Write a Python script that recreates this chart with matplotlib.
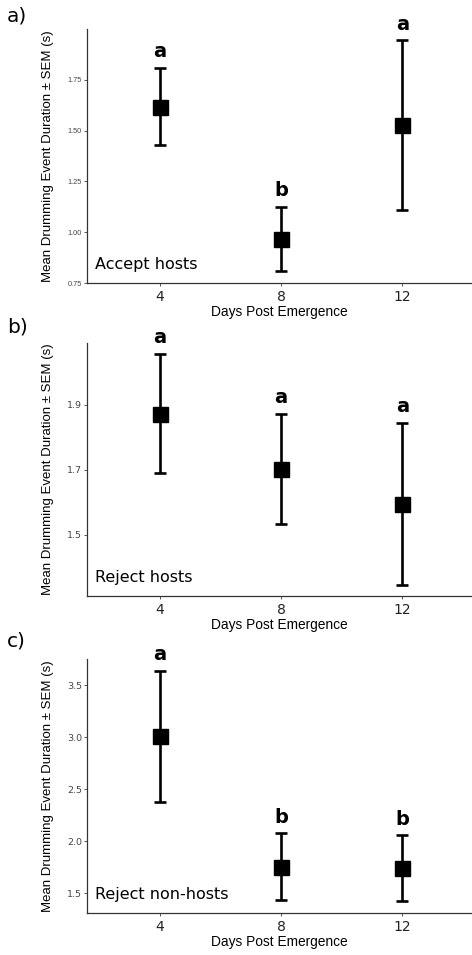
import matplotlib
matplotlib.use("Agg")
import matplotlib.pyplot as plt

# days post emergence
days = [4, 8, 12]

# mean and SEM bounds
accept_mean = [1.618, 0.967, 1.529]
accept_hi = [1.81, 1.125, 1.945]
accept_lo = [1.43, 0.809, 1.11]
accept_sig = ["a", "b", "a"]

reject_mean = [1.872, 1.703, 1.595]
reject_hi = [2.057, 1.872, 1.845]
reject_lo = [1.689, 1.534, 1.346]
reject_sig = ["a", "a", "a"]

nonhost_mean = [3.01, 1.753, 1.743]
nonhost_hi = [3.637, 2.074, 2.055]
nonhost_lo = [2.378, 1.433, 1.423]
nonhost_sig = ["a", "b", "b"]

W, H = 472, 955
fig = plt.figure(figsize=(W / 100, H / 100), dpi=100)

panels = [
    # name, means, hi, lo, letters, ylim, yticks, tick labels, tick font, axes px (top, bottom), panel letter y
    ("Accept hosts", accept_mean, accept_hi, accept_lo, accept_sig,
     (0.75, 2.0), [0.75, 1.00, 1.25, 1.50, 1.75], ["0.75", "1.00", "1.25", "1.50", "1.75"],
     ("Liberation Sans", 5.3), (29, 283), "a)", 16),
    ("Reject hosts", reject_mean, reject_hi, reject_lo, reject_sig,
     (1.312, 2.09), [1.5, 1.7, 1.9], ["1.5", "1.7", "1.9"],
     ("DejaVu Sans", 6.8), (343, 596), "b)", 327),
    ("Reject non-hosts", nonhost_mean, nonhost_hi, nonhost_lo, nonhost_sig,
     (1.31, 3.75), [1.5, 2.0, 2.5, 3.0, 3.5], ["1.5", "2.0", "2.5", "3.0", "3.5"],
     ("DejaVu Sans", 6.8), (659, 913), "c)", 641),
]

left_px = 87
for name, m, hi, lo, sig, ylim, yt, ytl, tfont, (top_px, bot_px), plab, ply in panels:
    ax = fig.add_axes([left_px / W, 1 - bot_px / H, 1 - left_px / W, (bot_px - top_px) / H])
    yerr = [[mm - l for mm, l in zip(m, lo)], [h - mm for mm, h in zip(m, hi)]]
    ax.errorbar(days, m, yerr=yerr, fmt="s", color="black", ms=10.8,
                elinewidth=1.9, capsize=4.4, capthick=1.9)
    for d, h, s in zip(days, hi, sig):
        ax.annotate(s, (d, h), xytext=(0, 11.5), textcoords="offset points",
                    ha="center", va="center", fontsize=14, fontweight="bold",
                    family="DejaVu Sans")
    ax.text(0.021, 0.072, name, transform=ax.transAxes, fontsize=11.5,
            family="DejaVu Sans", ha="left", va="center")
    ax.set_xlim(1.6, 14.3)
    ax.set_ylim(*ylim)
    ax.set_xticks(days)
    ax.set_xticklabels([str(d) for d in days], fontsize=10, family="DejaVu Sans", color="#222222")
    ax.set_yticks(yt)
    ax.set_yticklabels(ytl, fontsize=tfont[1], family=tfont[0], color="#444444")
    ax.tick_params(axis="both", length=2, width=0.7, color="#555555")
    ax.tick_params(axis="x", pad=3.2)
    ax.tick_params(axis="y", pad=1.5)
    for sp in ["top", "right"]:
        ax.spines[sp].set_visible(False)
    for sp in ["left", "bottom"]:
        ax.spines[sp].set_linewidth(0.9)
        ax.spines[sp].set_color("#333333")
    ax.set_xlabel("Days Post Emergence", fontsize=9.9, family="Liberation Sans")
    ax.xaxis.label.set_va("center")
    ax.xaxis.set_label_coords(0.5, -29 / (bot_px - top_px))
    ax.set_ylabel("Mean Drumming Event Duration \u00b1 SEM (s)", fontsize=9.5,
                  family="Liberation Sans")
    ax.yaxis.label.set_va("center")
    ax.yaxis.set_label_coords(-(left_px - 48) / (W - left_px), 0.5)
    fig.text(7 / W, 1 - ply / H, plab, fontsize=14.5, family="DejaVu Sans",
             ha="left", va="center")

fig.savefig("out.png", dpi=100)
